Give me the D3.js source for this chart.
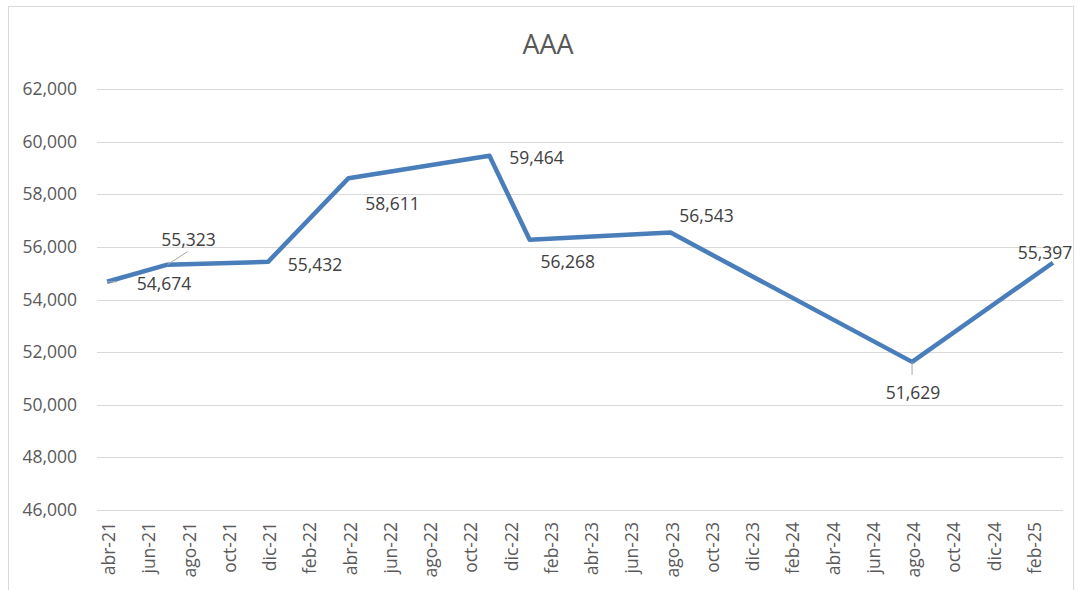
<!DOCTYPE html>
<html>
<head>
<meta charset="utf-8">
<script src="https://cdn.jsdelivr.net/npm/d3@7"></script>
<style>
  body { margin: 0; background: #fff; }
  svg { display: block; font-family: "Open Sans", sans-serif; }
</style>
</head>
<body>
<div id="chart"></div>
<script>
// --- DATA ---
const title = "AAA";
const dates = ["2021-04", "2021-07", "2021-12", "2022-04", "2022-11", "2023-01", "2023-08", "2024-08", "2025-03"];
const values = [54674, 55323, 55432, 58611, 59464, 56268, 56543, 51629, 55397];
const tickLabels = ["abr-21", "jun-21", "ago-21", "oct-21", "dic-21", "feb-22", "abr-22", "jun-22", "ago-22", "oct-22",
  "dic-22", "feb-23", "abr-23", "jun-23", "ago-23", "oct-23", "dic-23", "feb-24", "abr-24", "jun-24",
  "ago-24", "oct-24", "dic-24", "feb-25"];
const yTicks = [46000, 48000, 50000, 52000, 54000, 56000, 58000, 60000, 62000];

// label placement (offset from the point, in px) and leader lines
const labelOffsets = [[57, 2], [21, -25], [47, 3], [44, 26], [47, 2], [38, 22], [36, -17], [1, 31], [-8, -10]];
const leaders = [[0, 10, 0], [1, 20, -13], [7, 0, 13]];

const width = 1079, height = 590;
const margin = {top: 89, right: 16, bottom: 80, left: 97};

const fmtKey = d3.timeFormat("%Y-%m");
const months = d3.timeMonth.range(new Date(2021, 3, 1), new Date(2025, 3, 1)).map(fmtKey);

const svg = d3.select("#chart").append("svg")
    .attr("width", width)
    .attr("height", height);

// chart border
svg.append("rect")
    .attr("x", 8.5).attr("y", 6.5)
    .attr("width", width - 14).attr("height", height)
    .attr("fill", "none")
    .attr("stroke", "#d9d9d9");

const x = d3.scaleBand()
    .domain(months)
    .range([margin.left, width - margin.right]);

const y = d3.scaleLinear()
    .domain([46000, 62000])
    .range([height - margin.bottom, margin.top]);

const cx = d => x(d) + x.bandwidth() / 2;

// gridlines
svg.append("g")
    .selectAll("line")
    .data(yTicks)
    .join("line")
    .attr("x1", margin.left)
    .attr("x2", width - margin.right)
    .attr("y1", d => Math.round(y(d)) + 0.5)
    .attr("y2", d => Math.round(y(d)) + 0.5)
    .attr("stroke", "#d9d9d9")
    .attr("stroke-width", 1);

// y axis labels
const yAxis = svg.append("g")
    .attr("transform", `translate(${margin.left},0)`)
    .call(d3.axisLeft(y).tickValues(yTicks).tickSize(0).tickPadding(20).tickFormat(d3.format(",")));
yAxis.select(".domain").remove();
yAxis.selectAll("text")
    .attr("fill", "#595959")
    .attr("font-size", 17.5)
    .attr("font-family", "Open Sans, sans-serif");

// x axis labels
const xTickValues = months.filter((m, i) => i % 2 === 0);
const xAxis = svg.append("g")
    .attr("transform", `translate(0,${height - margin.bottom})`)
    .call(d3.axisBottom(x).tickValues(xTickValues).tickSize(0)
        .tickFormat(d => tickLabels[xTickValues.indexOf(d)]));
xAxis.select(".domain").remove();
xAxis.selectAll("text")
    .attr("fill", "#595959")
    .attr("font-size", 17.5)
    .attr("font-family", "Open Sans, sans-serif")
    .attr("text-anchor", "end")
    .attr("transform", "rotate(-90)")
    .attr("x", -12)
    .attr("y", 2)
    .attr("dy", "0.35em");

// title
svg.append("text")
    .attr("x", 548)
    .attr("y", 54)
    .attr("text-anchor", "middle")
    .attr("fill", "#595959")
    .attr("font-size", 27)
    .text(title);

// line
const points = dates.map((d, i) => ({date: d, value: values[i]}));
svg.append("path")
    .datum(points)
    .attr("fill", "none")
    .attr("stroke", "#4a7ebb")
    .attr("stroke-width", 4.5)
    .attr("stroke-linejoin", "round")
    .attr("d", d3.line().x(d => cx(d.date)).y(d => y(d.value)));

// leader lines
svg.append("g")
    .selectAll("line")
    .data(leaders)
    .join("line")
    .attr("x1", d => cx(dates[d[0]]))
    .attr("y1", d => y(values[d[0]]))
    .attr("x2", d => cx(dates[d[0]]) + d[1])
    .attr("y2", d => y(values[d[0]]) + d[2])
    .attr("stroke", "#a6a6a6")
    .attr("stroke-width", 1);

// data labels
svg.append("g")
    .selectAll("text")
    .data(points)
    .join("text")
    .attr("x", (d, i) => cx(d.date) + labelOffsets[i][0])
    .attr("y", (d, i) => y(d.value) + labelOffsets[i][1])
    .attr("dy", "0.35em")
    .attr("text-anchor", "middle")
    .attr("fill", "#404040")
    .attr("font-size", 17.5)
    .text(d => d3.format(",")(d.value));
</script>
</body>
</html>
